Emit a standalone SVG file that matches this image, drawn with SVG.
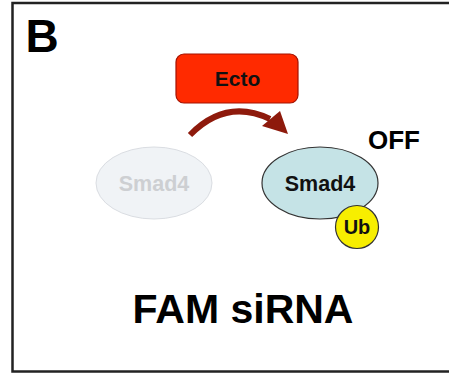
<svg xmlns="http://www.w3.org/2000/svg" width="449" height="374" viewBox="0 0 449 374">
  <style>
    text { font-family: "Liberation Sans", Arial, sans-serif; font-weight: bold; text-anchor: middle; }
    .frame { fill: none; stroke: #222; stroke-width: 2.5; }
    .conn { fill: none; stroke: #8e1a0c; stroke-width: 6; }
    .head { fill: #8e1a0c; }
  </style>
  <rect width="449" height="374" fill="#fff"/>
  <rect class="frame" x="12.5" y="3" width="450" height="368.5"/>

  <text x="42" y="52" font-size="46" fill="#000">B</text>

  <g id="ecto">
    <rect x="176" y="54" width="122" height="49" rx="8" fill="#ff2a00" stroke="#a31200" stroke-width="1.2"/>
    <text x="237.5" y="86" font-size="21" fill="#111">Ecto</text>
  </g>

  <g id="connectors">
    <path class="conn" d="M190,135 Q226,98 270,119"/>
    <polygon class="head" points="288,134 262,126 280,111"/>
  </g>

  <g id="smad4-faded">
    <ellipse cx="154" cy="183" rx="58" ry="36" fill="#f0f3f6" stroke="#dadde2" stroke-width="1"/>
    <text x="154" y="191" font-size="21.5" fill="#cdcfd2">Smad4</text>
  </g>

  <g id="smad4">
    <ellipse cx="320" cy="183" rx="58" ry="36" fill="#c5e3e6" stroke="#333" stroke-width="1.2"/>
    <text x="320" y="191" font-size="21.5" fill="#111">Smad4</text>
  </g>

  <g id="ub">
    <circle cx="357" cy="227" r="21.5" fill="#f7ee00" stroke="#333" stroke-width="1.2"/>
    <text x="357" y="234" font-size="20" fill="#111">Ub</text>
  </g>

  <g id="off">
    <text x="394" y="149" font-size="26" fill="#000">OFF</text>
  </g>

  <g id="title">
    <text x="243" y="323" font-size="41" fill="#000">FAM siRNA</text>
  </g>
</svg>
